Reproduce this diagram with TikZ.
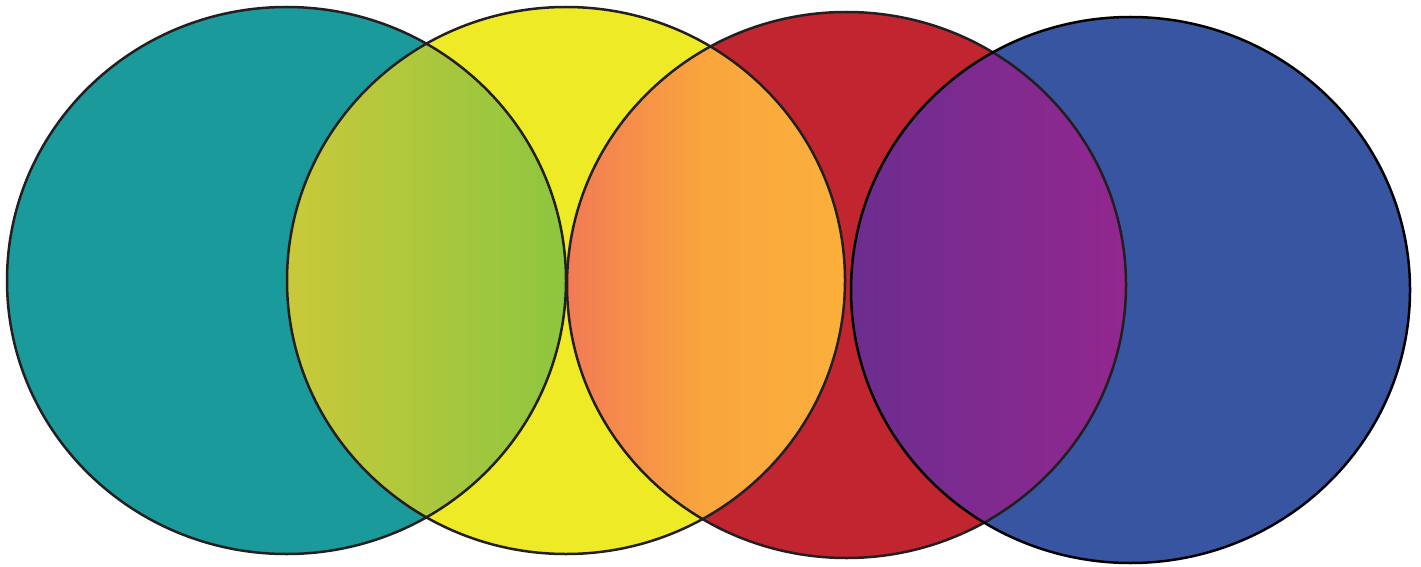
\documentclass[tikz,border=0pt]{standalone}
\definecolor{cteal}{HTML}{1A9A9A}
\definecolor{cyellow}{HTML}{EEEA26}
\definecolor{cred}{HTML}{C1252F}
\definecolor{cblue}{HTML}{3855A2}
\definecolor{cline}{HTML}{231F20}
\definecolor{gAl}{HTML}{C9C93A}
\definecolor{gAr}{HTML}{8DC63F}
\definecolor{gBl}{HTML}{F37A55}
\definecolor{gBm}{HTML}{F9A63D}
\definecolor{gBr}{HTML}{FBB03B}
\definecolor{gCl}{HTML}{6C2D8F}
\definecolor{gCr}{HTML}{92278F}
\begin{document}
\begin{tikzpicture}[x=1pt,y=1pt,
  outline/.style={draw=cline,line width=2.5pt}]
\useasboundingbox (0,0) rectangle (1421,566);
\def\EA{(286.5,285.5) ellipse [x radius=279.5,y radius=273.5]}
\def\EB{(566,285.5) ellipse [x radius=279,y radius=273.5]}
\def\EC{(846.5,281) ellipse [x radius=279.5,y radius=273]}
\def\ED{(1130.5,276) ellipse [x radius=279.5,y radius=273]}
% base fills
\fill[cteal] \EA;
\fill[cyellow] \EB;
\fill[cred] \EC;
\fill[cblue] \ED;
% lens gradients
\begin{scope}
  \clip \EA; \clip \EB;
  \shade[left color=gAl,right color=gAr] (287,0) rectangle (566,566);
\end{scope}
\begin{scope}
  \clip \EB; \clip \EC;
  \shade[left color=gBl,right color=gBr,middle color=gBm] (567,0) rectangle (845,566);
\end{scope}
\begin{scope}
  \clip \EC; \clip \ED;
  \shade[left color=gCl,right color=gCr] (851,0) rectangle (1126,566);
\end{scope}
% outlines
\draw[outline] \EA;
\draw[outline] \EB;
\draw[outline] \EC;
\draw[outline,draw=black] \ED;
\end{tikzpicture}
\end{document}
